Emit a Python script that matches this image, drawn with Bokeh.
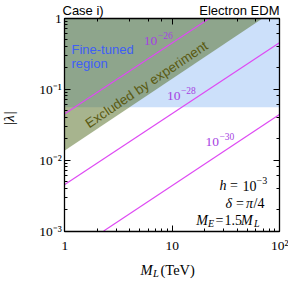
import math
from bokeh.plotting import figure
from bokeh.models import Label, LogAxis, CustomJSTickFormatter, LogTicker
from bokeh.embed import file_html
from bokeh.resources import INLINE

# ---------------- data ----------------
x_tick_values = [1, 10, 100]
x_tick_labels = ["1", "10", "10²"]
y_tick_values = [0.001, 0.01, 0.1, 1]
y_tick_labels = ["10⁻³", "10⁻²", "10⁻¹", "1"]
x_bounds = (1, 100)
y_bounds = (0.001, 1)

# fine-tuned region: |lambda| above this value
finetuned_M = [1, 100, 100, 1]
finetuned_lam = [0.0555, 0.0555, 1, 1]

# region excluded by experiment
excluded_M = [1, 70, 1]
excluded_lam = [0.0136, 1, 1]

# electron EDM contours (straight lines in log-log), end points
edm_levels = ["−26", "−28", "−30"]
edm26_M = [1, 22.4]
edm26_lam = [0.0447, 1]
edm28_M = [1, 100]
edm28_lam = [0.0045, 0.45]
edm30_M = [2.3, 100]
edm30_lam = [0.001, 0.044]

# ---------------- layout: the frame fills the canvas, axes sit at fixed places ----------------
W, H = 288, 281
FX0, FX1 = 64.3, 279.3      # pixel columns of M = 1 and M = 100
FY0, FY1 = 17.5, 230.5      # pixel rows of |lambda| = 1 and 1e-3

def dx(px):
    return 10 ** (2 * (px - FX0) / (FX1 - FX0))

def dy(py):
    return 10 ** (-3 * (py - FY0) / (FY1 - FY0))

p = figure(width=W, height=H, x_axis_type="log", y_axis_type="log",
           x_range=(dx(0), dx(W)), y_range=(dy(H), dy(0)),
           output_backend="svg", toolbar_location=None,
           min_border_left=0, min_border_right=0,
           min_border_top=0, min_border_bottom=0)
p.title.visible = False
p.grid.visible = False
p.outline_line_color = None
p.background_fill_color = "white"
p.border_fill_color = "white"

SERIF = "Liberation Serif"
SANS = "Liberation Sans"

def style_axis(ax):
    ax.axis_line_width = 1.3
    ax.axis_line_color = "black"
    ax.major_tick_in = 6
    ax.major_tick_out = 0
    ax.minor_tick_in = 3
    ax.minor_tick_out = 0
    ax.major_tick_line_width = 1
    ax.minor_tick_line_width = 1
    ax.major_tick_line_color = "black"
    ax.minor_tick_line_color = "black"
    ax.major_label_text_font = SERIF
    ax.major_label_text_font_size = "13.5px"
    ax.major_label_text_color = "black"

fmt_code = """
const e = Math.round(Math.log10(tick));
const i = exps.indexOf(e);
return i >= 0 ? labels[i] : "";
"""
xa = p.xaxis[0]
ya = p.yaxis[0]
xa.formatter = CustomJSTickFormatter(
    args=dict(exps=[int(round(math.log10(v))) for v in x_tick_values], labels=x_tick_labels),
    code=fmt_code)
ya.formatter = CustomJSTickFormatter(
    args=dict(exps=[int(round(math.log10(v))) for v in y_tick_values], labels=y_tick_labels),
    code=fmt_code)
style_axis(xa)
style_axis(ya)
xa.fixed_location = y_bounds[0]
xa.bounds = x_bounds
ya.fixed_location = x_bounds[0]
ya.bounds = y_bounds
xa.major_label_standoff = 7
ya.major_label_standoff = 3

top = LogAxis(ticker=LogTicker(), formatter=CustomJSTickFormatter(code="return '';"),
              fixed_location=y_bounds[1], bounds=x_bounds)
right = LogAxis(ticker=LogTicker(), formatter=CustomJSTickFormatter(code="return '';"),
                fixed_location=x_bounds[1], bounds=y_bounds)
for ax in (top, right):
    style_axis(ax)
    ax.major_label_text_font_size = "1px"
    ax.major_label_standoff = 0
p.add_layout(top, "above")
p.add_layout(right, "right")

# ---------------- regions & lines ----------------
p.patch(finetuned_M, finetuned_lam, fill_color="#cce0fa", line_color=None)
p.patch(excluded_M, excluded_lam, fill_color="#50691e", fill_alpha=0.5, line_color=None)
LINE_C = "#de4af3"
for xs, ys in ((edm26_M, edm26_lam), (edm28_M, edm28_lam), (edm30_M, edm30_lam)):
    p.line(xs, ys, line_color=LINE_C, line_width=1.2)

# ---------------- text (positions in reference pixels) ----------------
def lab(px, py, text, size, font=SANS, style="normal", color="black",
        align="left", baseline="alphabetic", angle=0.0):
    p.add_layout(Label(x=dx(px), y=dy(py), text=text, text_font=font,
                       text_font_size=f"{size}px", text_font_style=style,
                       text_color=color, text_align=align,
                       text_baseline=baseline, angle=angle))

lab(62, 10, "Case i)", 13)
lab(279, 10, "Electron EDM", 13, align="right")

BLUE_T = "#3f5ff5"
lab(71, 48.5, "Fine-tuned", 13, color=BLUE_T)
lab(71, 63, "region", 13, color=BLUE_T)

lab(146, 84, "Excluded by experiment", 13.5, color="#5a5a12",
    align="center", baseline="middle", angle=math.radians(33.9))

PURP_T = "#a63fe2"
for (px, py), sup in zip(((143.3, 40.5), (166.5, 95), (205, 141.5)), edm_levels):
    lab(px, py, "10", 13.5, font=SERIF, color=PURP_T)
    lab(px + 14, py - 5.5, sup, 9.5, font=SERIF, color=PURP_T)

# parameter box
lab(219, 185, "h", 14, font=SERIF, style="italic")
lab(229.5, 185, "=", 14, font=SERIF)
lab(242, 185, "10", 14, font=SERIF)
lab(256, 179.5, "−3", 10, font=SERIF)

lab(225, 203, "δ", 14, font=SERIF, style="italic")
lab(235.5, 203, "=", 14, font=SERIF)
lab(245.5, 203, "π", 14, font=SERIF, style="italic")
lab(253, 203, "/4", 14, font=SERIF)

lab(195.7, 219.5, "M", 14, font=SERIF, style="italic")
lab(207.5, 222.5, "E", 10, font=SERIF, style="italic")
lab(215, 219.5, "=", 14, font=SERIF)
lab(224, 219.5, "1.5", 14, font=SERIF)
lab(240.5, 219.5, "M", 14, font=SERIF, style="italic")
lab(253.5, 222.5, "L", 10, font=SERIF, style="italic")

# axis titles
lab(140, 269.5, "M", 14.5, font=SERIF, style="italic")
lab(152.5, 272.5, "L", 10.5, font=SERIF, style="italic")
lab(160, 269.5, "(TeV)", 14.5, font=SERIF)
lab(8, 118, "|λ|", 15, font=SERIF, style="italic", align="center",
    baseline="middle", angle=math.pi / 2)

open("out.html", "w").write(file_html(p, INLINE))
